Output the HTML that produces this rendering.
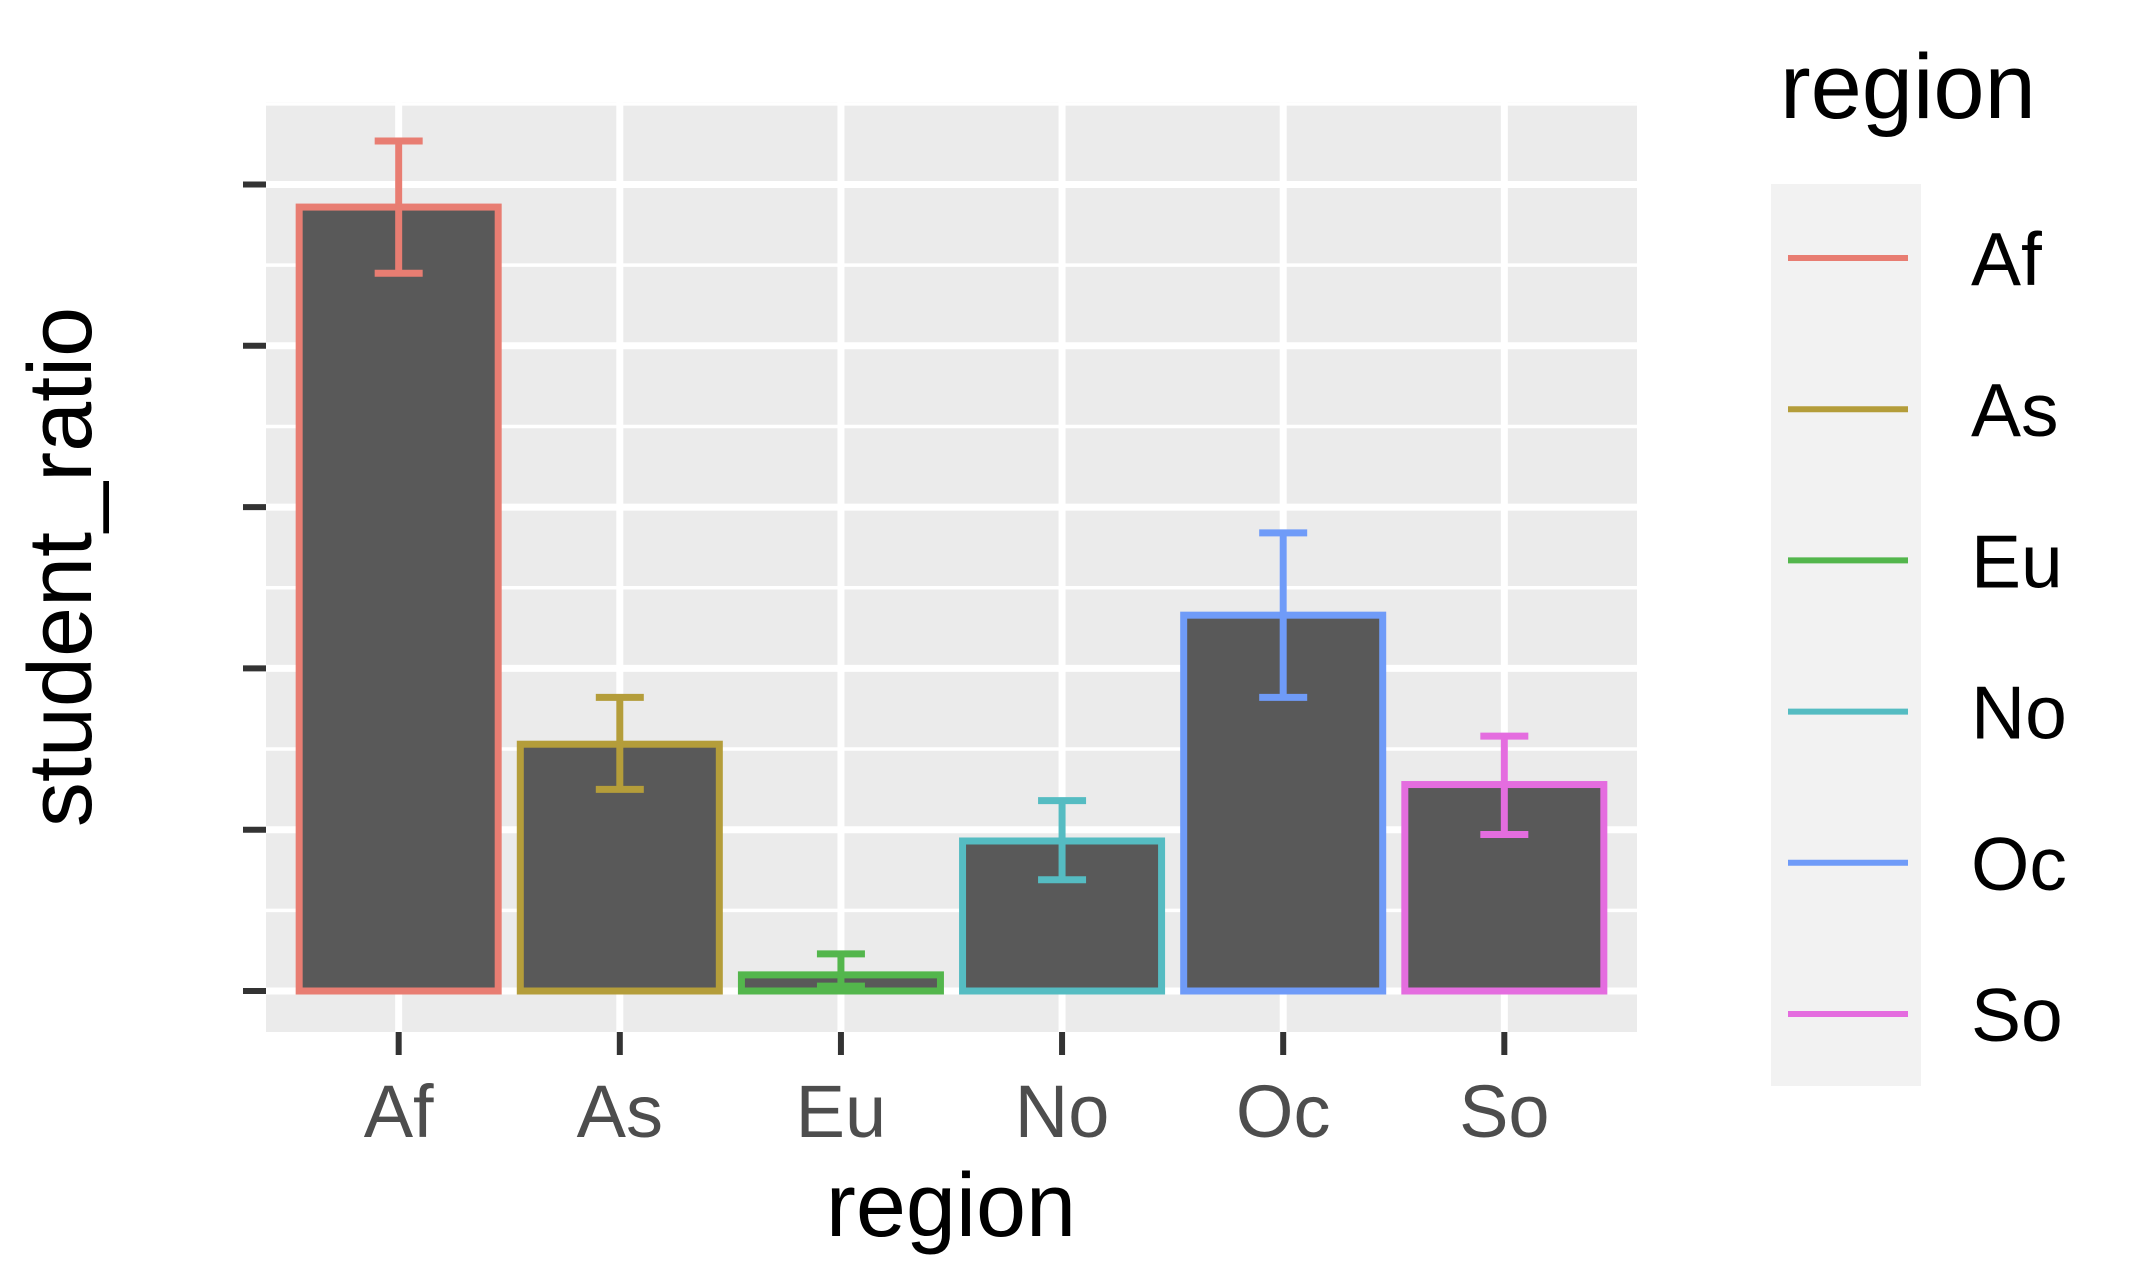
<!DOCTYPE html>
<html><head><meta charset="utf-8"><style>
body{margin:0;background:#fff;}
svg{display:block;font-family:"Liberation Sans",sans-serif;}
</style></head><body>
<svg id="chart" width="2132" height="1266">
<rect x="266" y="102" width="1371" height="930" fill="#ebebeb"/>
<rect x="1771" y="184" width="150" height="902" fill="#f2f2f2"/>
<g id="grid"></g><g id="bars"></g><g id="axes"></g><g id="legend"></g>
<text x="951" y="1236" font-size="90" text-anchor="middle" fill="#000">region</text>
<text transform="translate(91,567) rotate(-90)" font-size="90" text-anchor="middle" fill="#000">student_ratio</text>
<text x="1780" y="118" font-size="92" fill="#000">region</text>
</svg>
<script>
const categories = ["Af","As","Eu","No","Oc","So"];
const values = [4.86,1.53,0.10,0.93,2.33,1.28];
const errLow = [4.45,1.25,0.03,0.69,1.82,0.97];
const errHigh = [5.27,1.82,0.23,1.18,2.84,1.58];
const yTicks = [0,1,2,3,4,5];
const colors = ["#E87D72","#B49D3A","#53B64C","#55BCC2","#6F9BF8","#E46DDF"];
const NS="http://www.w3.org/2000/svg";
const px0=266, pw=1371, y0=991, unit=161.3;
const step=pw/ (categories.length+0.2);
function xScale(i){return px0+step*(0.6+i);}
function yScale(v){return y0-v*unit;}
function mk(tag,attrs,parent){const e=document.createElementNS(NS,tag);for(const k in attrs)e.setAttribute(k,attrs[k]);parent.appendChild(e);return e;}
const grid=document.getElementById('grid'),bars=document.getElementById('bars'),axes=document.getElementById('axes'),legend=document.getElementById('legend');
for(let i=0;i<yTicks.length+1;i++){const v=yTicks[0]+i-0.5;const y=yScale(v);if(y<102||y>1032)continue;
const l=mk('line',{x1:266,x2:1637,y1:y,y2:y,stroke:'#fff','stroke-width':3.5},grid);

}
yTicks.forEach(t=>{const y=yScale(t);
const l=mk('line',{x1:266,x2:1637,y1:y,y2:y,stroke:'#fff','stroke-width':7},grid);


const tk=mk('line',{x1:243,x2:266,y1:y,y2:y,stroke:'#333','stroke-width':6},axes);

});
categories.forEach((c,i)=>{const x=xScale(i);
const g=mk('line',{x1:x,x2:x,y1:102,y2:1032,stroke:'#fff','stroke-width':7},grid);


const bw=step*0.9;const top=yScale(values[i]);
const r=mk('rect',{x:x-bw/2,y:top,width:bw,height:y0-top,fill:'#595959',stroke:colors[i],'stroke-width':7},bars);


const hi=yScale(errHigh[i]),lo=yScale(errLow[i]);
const eg=mk('path',{d:`M${x-24},${hi}H${x+24}M${x},${hi}V${lo}M${x-24},${lo}H${x+24}`,stroke:colors[i],'stroke-width':7,fill:'none'},bars);


const tk=mk('line',{x1:x,x2:x,y1:1032,y2:1055,stroke:'#333','stroke-width':6},axes);


const t=mk('text',{x:x,y:1137,'font-size':74,'text-anchor':'middle',fill:'#4d4d4d'},axes);t.textContent=c;


const ly=258+i*151.2;
const ll=mk('line',{x1:1788,x2:1908,y1:ly,y2:ly,stroke:colors[i],'stroke-width':6},legend);


const lt=mk('text',{x:1971,y:ly+27,'font-size':75,fill:'#000'},legend);lt.textContent=c;

});
</script>
</body></html>
